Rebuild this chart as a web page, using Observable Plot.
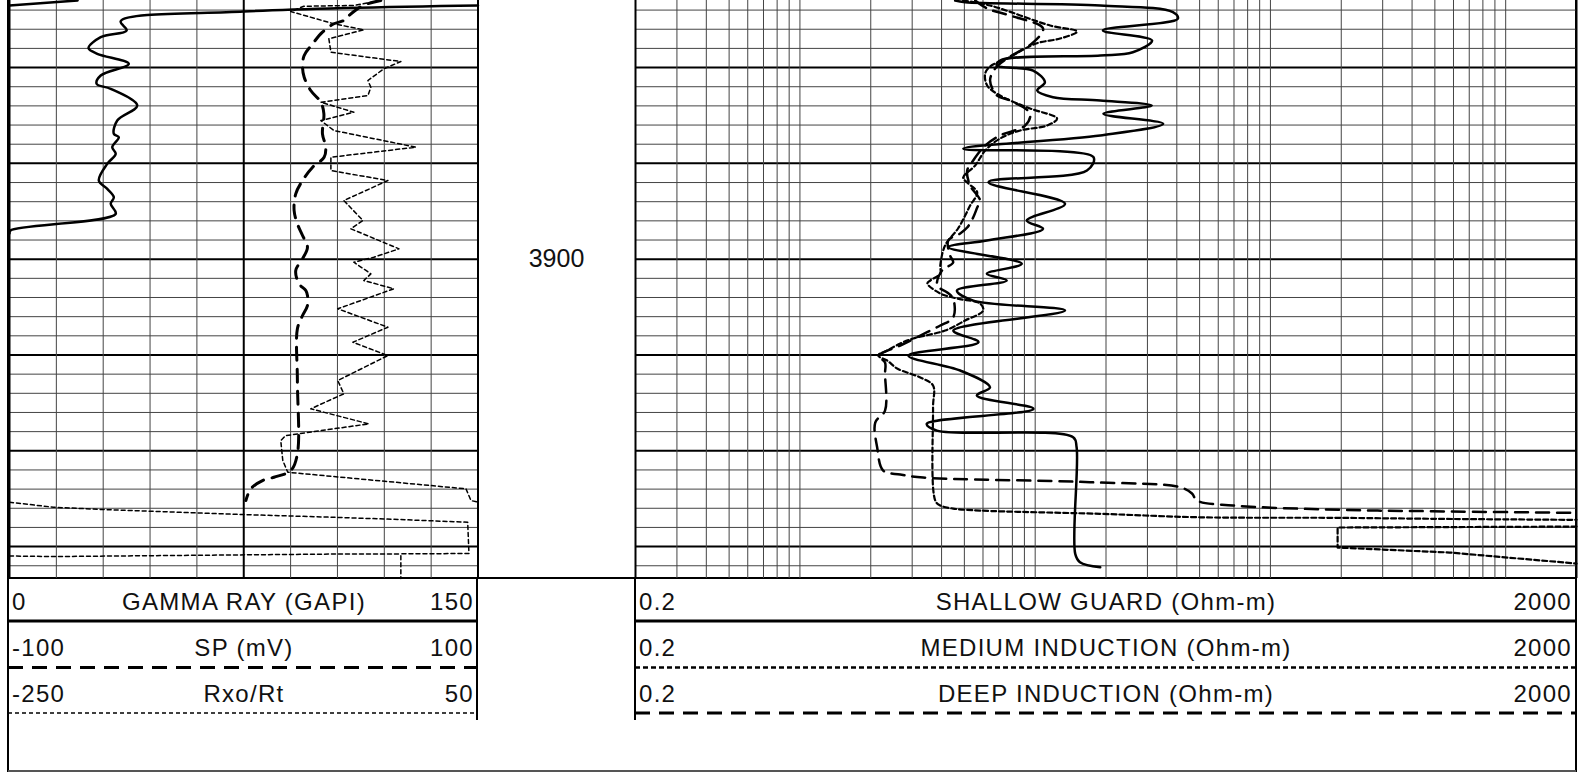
<!DOCTYPE html>
<html><head><meta charset="utf-8">
<script src="https://cdn.jsdelivr.net/npm/d3@7"></script>
<script src="https://cdn.jsdelivr.net/npm/@observablehq/plot@0.6"></script>
<style>
html,body{margin:0;padding:0;background:#fff;}
#chart{position:relative;width:1582px;height:773px;overflow:hidden;background:#fff;}
#chart svg{position:absolute;left:0;top:0;}
</style></head><body><div id="chart"></div>
<script>
// ---------- depth grid / tick values ----------
const depthMinor = [3874,3876,3878,3882,3884,3886,3888,3892,3894,3896,3898,3902,3904,3906,3908,3912,3914,3916,3918,3922,3924,3926,3928,3932];
const depthMajor = [3880,3890,3900,3910,3920,3930];
const depthLabels = [3900];
const grMinorTicks = [15,30,45,60,90,105,120,135];
const grCenterTick = [75];
const grEdges = [0,150];
const resTicks = [0.3,0.4,0.5,0.6,0.7,0.8,0.9,1,2,3,4,5,6,7,8,9,10,20,30,40,50,60,70,80,90,100,200,300,400,500,600,700,800,900,1000];
const resEdges = [0.2,2000];

// ---------- header labels ----------
const leftNames = ["GAMMA RAY (GAPI)","SP (mV)","Rxo/Rt"];
const leftMins = ["0","-100","-250"];
const leftMaxs = ["150","100","50"];
const rightNames = ["SHALLOW GUARD (Ohm-m)","MEDIUM INDUCTION (Ohm-m)","DEEP INDUCTION (Ohm-m)"];
const rightMins = ["0.2","0.2","0.2"];
const rightMaxs = ["2000","2000","2000"];

// ---------- GAMMA RAY (GAPI), 0-150 ----------
const grDepth = [3873.00,3873.52,3873.52,3873.52,3874.15,3875.16,3876.13,3876.83,3877.98,3878.56,3879.61,3880.83,3881.70,3882.22,3883.96,3885.53,3886.91,3887.27,3888.31,3889.00,3890.05,3891.79,3892.66,3893.53,3894.22,3895.27,3897.01,3897.32];
const grValue = [21.8,0,NaN,150,75.0,35.6,37.5,29.2,25.3,28.1,38.2,29.2,27.9,32.4,40.9,34.5,33.4,35.0,32.9,34.0,31.3,28.6,31.3,33.4,32.4,34.0,0.3,0];

// ---------- SP (mV), -100..100 ----------
const spDepth = [3873.00,3873.52,3874.57,3875.09,3875.43,3876.31,3877.52,3878.74,3879.96,3881.01,3882.39,3883.62,3884.80,3886.91,3888.31,3889.36,3890.40,3891.79,3893.18,3894.92,3896.31,3897.53,3898.75,3899.96,3901.18,3902.57,3903.27,3903.79,3904.84,3905.88,3907.27,3912.67,3920.32,3922.06,3922.76,3923.11,3923.97,3925.19];
const spValue = [58.5,50.9,44.9,42.7,38.5,33.6,29.4,25.8,25.1,25.8,28.6,32.9,34.2,33.6,35.0,34.3,29.4,25.1,22.2,21.5,22.9,25.1,27.2,25.1,22.2,23.6,26.5,27.2,27.2,25.1,22.9,22.9,22.9,20.1,12.9,8.0,3.0,0.9];

// ---------- Rxo/Rt, -250..50 ----------
const rxoDepth = [3873.00,3873.52,3873.60,3874.15,3875.43,3876.06,3877.00,3878.40,3879.37,3880.13,3881.35,3882.05,3882.92,3883.62,3884.66,3885.53,3886.57,3888.31,3889.36,3890.75,3891.79,3893.88,3895.96,3896.83,3898.92,3899.80,3900.32,3901.53,3902.23,3903.09,3905.18,3907.10,3908.67,3910.06,3912.67,3914.05,3915.62,3917.19,3918.41,3918.93,3921.02,3922.24,3923.97,3925.19,3925.37,3925.37,3925.37,3925.89,3926.13,3926.65,3926.94,3927.18,3927.46,3930.72,3930.76,3933.33,3933.33,3930.98,3931.04,3930.78,3930.76];
const rxoValue = [-12.2,-29.5,-61.5,-69.9,-42.3,-23.1,-45.5,-44.2,0.6,-10.3,-20.5,-18.6,-20.5,-50.6,-29.5,-50.6,-42.3,10.2,-44.2,-44.2,-7.7,-35.9,-23.7,-31.4,-0.6,-16.7,-29.5,-18.6,-23.1,-3.9,-39.8,-7.7,-30.1,-7.7,-39.8,-35.9,-57.1,-19.9,-73.1,-76.3,-75.0,-71.8,42.3,45.5,50,NaN,-250,-221.8,-190.4,-101.9,-42.3,0.6,43.4,44.2,0.6,0.6,NaN,-250,-221.8,-42.3,0.6];

// ---------- SHALLOW GUARD (Ohm-m) ----------
const sflDepth = [3873.00,3873.18,3873.52,3874.22,3874.91,3876.13,3877.18,3878.40,3878.74,3879.26,3879.79,3880.31,3881.53,3882.39,3883.09,3883.44,3883.96,3884.83,3885.87,3887.09,3888.48,3889.36,3890.75,3891.97,3894.22,3895.96,3896.83,3898.05,3898.75,3900.48,3901.53,3902.23,3903.27,3904.32,3905.36,3907.45,3908.67,3910.06,3911.62,3913.37,3914.23,3915.62,3917.19,3917.89,3918.58,3919.63,3930.76,3931.63,3932.16];
const sflValue = [4.57,5.04,18.9,38.5,40.4,19.4,31.4,26.0,18.9,7.09,6.87,9.80,11.0,10.2,11.9,18.9,31.3,19.5,35.0,18.9,4.95,17.7,16.6,6.33,13.4,9.21,10.8,6.23,4.28,8.77,6.23,7.57,4.65,5.46,13.4,4.49,5.74,2.89,4.80,6.43,5.65,9.83,3.46,3.82,14.5,15.0,14.8,15.5,18.9];

// ---------- MEDIUM INDUCTION (Ohm-m) ----------
const imDepth = [3873.00,3873.52,3875.61,3876.24,3876.97,3877.49,3879.05,3879.89,3880.62,3881.87,3882.92,3884.27,3885.32,3886.05,3886.57,3887.41,3888.66,3890.22,3891.48,3892.00,3893.04,3894.40,3895.44,3896.80,3898.57,3900.66,3901.50,3902.23,3902.54,3903.58,3904.11,3904.63,3905.36,3906.40,3907.45,3908.28,3908.80,3909.53,3910.06,3910.58,3911.41,3912.35,3913.19,3915.48,3925.19,3925.71,3926.03,3926.24,3926.58,3926.94,3927.00,3927.10,3927.21,3927.21,3927.91,3928.01,3930.10,3930.62,3931.77];
const imValue = [4.94,6.43,11.57,15.07,12.76,10.09,7.60,6.43,6.13,6.25,7.09,9.51,12.39,11.23,8.63,7.09,6.13,5.56,4.94,5.14,5.67,5.29,5.04,4.70,4.14,3.95,3.95,3.58,3.48,3.95,4.66,5.83,6.01,5.04,4.14,3.03,2.67,2.35,2.15,2.35,2.59,3.25,3.68,3.68,3.76,3.95,4.48,5.83,18.86,50.1,197,489,2000,NaN,2000,193,193,578,2000];

// ---------- DEEP INDUCTION (Ohm-m) ----------
const idDepth = [3873.00,3873.84,3874.57,3875.92,3877.38,3879.05,3880.10,3881.35,3882.92,3883.44,3884.80,3886.05,3887.09,3888.14,3889.70,3890.75,3892.31,3893.88,3894.61,3895.65,3896.70,3897.32,3898.05,3899.62,3900.35,3901.18,3902.75,3903.48,3904.11,3906.09,3906.92,3907.97,3909.01,3909.74,3910.06,3910.79,3911.94,3915.80,3917.05,3919.66,3922.06,3922.48,3922.79,3923.28,3923.80,3924.46,3925.19,3925.71,3926.16,3926.31,3926.48];
const idValue = [5.56,6.25,7.82,10.80,9.80,7.60,6.76,6.43,6.89,7.82,9.51,9.06,7.09,6.13,5.45,5.14,5.29,5.83,5.67,5.45,5.14,4.80,4.27,4.35,4.48,4.02,3.83,4.23,4.48,4.48,3.95,3.25,2.67,2.26,2.15,2.30,2.30,2.30,2.09,2.13,2.26,2.67,3.34,17.1,41.2,46.4,48.7,69.3,197,489,2000];

// ---------- build ----------
const W = 1582, H = 773, TRACK_H = 578;
const FONT = "'Liberation Sans', Arial, sans-serif";
const rows = (ds, vs) => ds.map((d, i) => ({d, v: vs[i]}));
const chart = document.getElementById("chart");

// header + frame (plain SVG, under the plots)
const hs = d3.select(chart).append("svg").attr("width", W).attr("height", H);
function hline(x1, y1, x2, y2, w, dash, col) {
  hs.append("line").attr("x1", x1).attr("y1", y1).attr("x2", x2).attr("y2", y2)
    .attr("stroke", col || "#000").attr("stroke-width", w)
    .attr("stroke-dasharray", dash || null);
}
hline(8, 0, 8, 772, 2);
hline(1576, 0, 1576, 772, 2);
hline(8, 771, 1576, 771, 2, null, "#555");
hline(8, 578, 1576, 578, 2);
hline(477, 578, 477, 720, 2);
hline(635, 578, 635, 720, 2);
// legend line styles
hline(8, 621, 477, 621, 3);
hline(8, 667.5, 477, 667.5, 3, "15,9");
hline(8, 713, 477, 713, 1.5, "4,3");
hline(635, 621, 1576, 621, 3);
hline(635, 667.5, 1576, 667.5, 2.5, "5,3");
hline(635, 713, 1576, 713, 3, "15,9");

const baselines = [610, 656, 702];
function htext(x, y, t, anchor) {
  hs.append("text").attr("x", x).attr("y", y).attr("text-anchor", anchor)
    .attr("font-family", FONT).attr("font-size", 24).attr("letter-spacing", "1.3px")
    .attr("fill", "#111").text(t);
}
baselines.forEach((b, i) => {
  htext(12, b, leftMins[i], "start");
  htext(244, b, leftNames[i], "middle");
  htext(474, b, leftMaxs[i], "end");
  htext(639, b, rightMins[i], "start");
  htext(1106, b, rightNames[i], "middle");
  htext(1572, b, rightMaxs[i], "end");
});

const yOpt = {domain: [3873, 3933.33], range: [0, TRACK_H], axis: null};
const base = {width: W, height: TRACK_H, marginTop: 0, marginBottom: 0, marginLeft: 0, marginRight: 0,
  style: {background: "transparent", overflow: "visible"}};
const smooth = "catmull-rom";

// left track: GR / SP / Rxo
const left = Plot.plot({
  ...base,
  x: {domain: [0, 150], range: [9, 477.5], axis: null},
  y: yOpt,
  marks: [
    Plot.ruleY(depthMinor, {x1: 0, x2: 150, stroke: "#444", strokeWidth: 1}),
    Plot.ruleY(depthMajor, {x1: 0, x2: 150, stroke: "#000", strokeWidth: 2}),
    Plot.ruleX(grMinorTicks, {stroke: "#444", strokeWidth: 1}),
    Plot.ruleX(grCenterTick, {stroke: "#000", strokeWidth: 2}),
    Plot.ruleX(grEdges, {stroke: "#000", strokeWidth: 2}),
    Plot.line(rows(rxoDepth, rxoValue), {x: r => (r.v + 250) / 2, y: "d", stroke: "#000", strokeWidth: 1.5, strokeDasharray: "4,3"}),
    Plot.line(rows(spDepth, spValue), {x: r => (r.v + 100) * 0.75, y: "d", stroke: "#000", strokeWidth: 3, strokeDasharray: "13,9", curve: smooth}),
    Plot.line(rows(grDepth, grValue), {x: "v", y: "d", stroke: "#000", strokeWidth: 2.5, strokeLinejoin: "round", curve: smooth})
  ]
});
chart.appendChild(left);

// depth column
const mid = Plot.plot({
  ...base,
  x: {domain: [0, 1], range: [477, 635], axis: null},
  y: yOpt,
  marks: [
    Plot.text(depthLabels, {x: 0.5, y: d => d, text: d => String(d), fontSize: 25, fontFamily: FONT, fill: "#111"})
  ]
});
chart.appendChild(mid);

// right track: resistivities (log)
const imRows = rows(imDepth, imValue);
const imBreak = imValue.findIndex(v => Number.isNaN(v));
const right = Plot.plot({
  ...base,
  x: {type: "log", domain: [0.2, 2000], range: [635, 1576], axis: null},
  y: yOpt,
  marks: [
    Plot.ruleY(depthMinor, {x1: 0.2, x2: 2000, stroke: "#444", strokeWidth: 1}),
    Plot.ruleY(depthMajor, {x1: 0.2, x2: 2000, stroke: "#000", strokeWidth: 2}),
    Plot.ruleX(resTicks, {stroke: "#444", strokeWidth: 1}),
    Plot.ruleX(resEdges, {stroke: "#000", strokeWidth: 2}),
    Plot.line(rows(idDepth, idValue), {x: "v", y: "d", stroke: "#000", strokeWidth: 2.5, strokeDasharray: "13,8", curve: smooth}),
    Plot.line(imRows.slice(0, imBreak), {x: "v", y: "d", stroke: "#000", strokeWidth: 2.2, strokeDasharray: "5,3", curve: smooth}),
    Plot.line(imRows.slice(imBreak + 1), {x: "v", y: "d", stroke: "#000", strokeWidth: 2.2, strokeDasharray: "5,3"}),
    Plot.line(rows(sflDepth, sflValue), {x: "v", y: "d", stroke: "#000", strokeWidth: 2.5, strokeLinejoin: "round", curve: smooth})
  ]
});
chart.appendChild(right);
</script></body></html>
